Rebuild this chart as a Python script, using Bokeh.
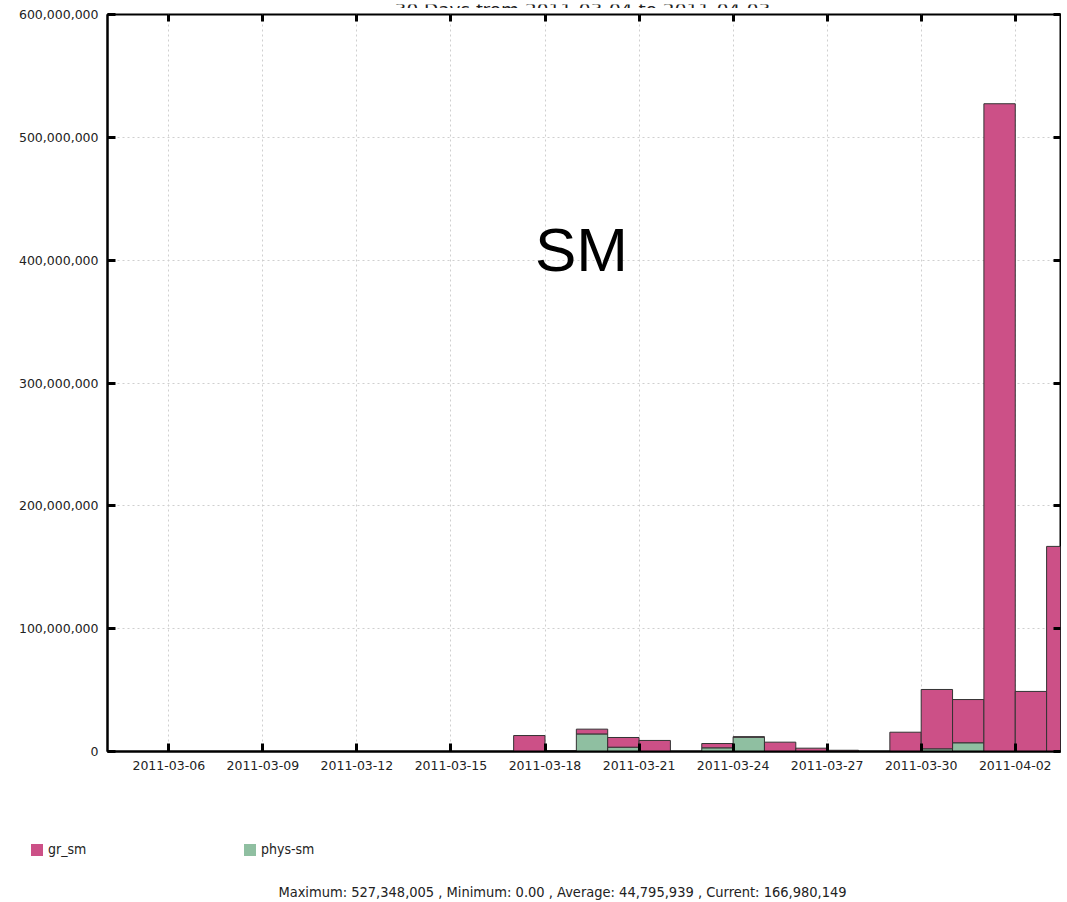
import pandas as pd
from bokeh.plotting import figure
from bokeh.layouts import column
from bokeh.models import (Range1d, FixedTicker, DatetimeTickFormatter, NumeralTickFormatter,
                          LinearAxis, DatetimeAxis, Label, Legend, LegendItem, ColumnDataSource,
                          CustomJSTickFormatter)
from bokeh.embed import file_html
from bokeh.resources import INLINE

# ---------------- data ----------------
dates = ["2011-03-04", "2011-03-05", "2011-03-06", "2011-03-07", "2011-03-08", "2011-03-09",
         "2011-03-10", "2011-03-11", "2011-03-12", "2011-03-13", "2011-03-14", "2011-03-15",
         "2011-03-16", "2011-03-17", "2011-03-18", "2011-03-19", "2011-03-20", "2011-03-21",
         "2011-03-22", "2011-03-23", "2011-03-24", "2011-03-25", "2011-03-26", "2011-03-27",
         "2011-03-28", "2011-03-29", "2011-03-30", "2011-03-31", "2011-04-01", "2011-04-02",
         "2011-04-03"]
gr_sm = [0, 0, 0, 0, 0, 0,
         0, 0, 0, 0, 0, 0,
         0, 13.0e6, 0.8e6, 3.9e6, 7.9e6, 9.0e6,
         0, 3.5e6, 0.3e6, 7.6e6, 2.7e6, 1.0e6,
         0, 15.7e6, 48.3e6, 35.2e6, 527348005, 48.9e6,
         166980149]
phys_sm = [0, 0, 0, 0, 0, 0,
           0, 0, 0, 0, 0, 0,
           0, 0, 0, 14.3e6, 3.5e6, 0,
           0, 3.0e6, 11.7e6, 0, 0, 0,
           0, 0, 2.2e6, 7.1e6, 0, 0,
           0]
series_names = ["gr_sm", "phys-sm"]
series_colors = ["#CC5087", "#8FBFA1"]
x_tick_labels = ["2011-03-06", "2011-03-09", "2011-03-12", "2011-03-15", "2011-03-18",
                 "2011-03-21", "2011-03-24", "2011-03-27", "2011-03-30", "2011-04-02"]
y_ticks = [0, 100e6, 200e6, 300e6, 400e6, 500e6, 600e6]
title_text = "30 Days from 2011-03-04 to 2011-04-03"
big_label = "SM"
footer_text = "Maximum: 527,348,005 , Minimum: 0.00 , Average: 44,795,939 , Current: 166,980,149"

# ---------------- layout constants ----------------
DAY_MS = 86400000
px_per_day = 31.35
frame_left = 107
frame_w = 953
first_tick = pd.Timestamp(x_tick_labels[0])
x_start = first_tick - pd.Timedelta(days=(168.3 - frame_left) / px_per_day)
x_end = x_start + pd.Timedelta(days=frame_w / px_per_day)

# ---------------- title strip (cut off at the top, like the reference) ----------------
p0 = figure(width=1061, height=8, x_range=Range1d(0, 1), y_range=Range1d(0, 1),
            output_backend="svg", toolbar_location=None,
            x_axis_location=None, y_axis_location=None,
            min_border=0, min_border_left=0, min_border_right=0,
            min_border_top=0, min_border_bottom=0)
p0.frame_align = False
p0.outline_line_color = None
p0.xgrid.visible = False
p0.ygrid.visible = False
p0.add_layout(Label(x=582, y=3, x_units="screen", y_units="screen", text=title_text,
                    text_align="center", text_baseline="alphabetic",
                    text_font="DejaVu Sans", text_font_size="18.5px", text_color="#222222"))

# ---------------- main chart ----------------
src = ColumnDataSource(dict(
    x=pd.to_datetime(dates) + pd.Timedelta(hours=12),
    gr_sm=gr_sm,
    phys_sm=phys_sm,
))

p = figure(width=1061, height=772, x_axis_type="datetime",
           x_range=Range1d(x_start, x_end), y_range=Range1d(0, 600e6),
           output_backend="svg", toolbar_location=None,
           min_border_left=frame_left, min_border_right=1, min_border_top=6, min_border_bottom=29)
p.background_fill_color = "white"
p.border_fill_color = "white"
p.outline_line_color = "black"
p.outline_line_width = 2

rs = p.vbar_stack(["phys_sm", "gr_sm"], x="x", width=DAY_MS, source=src,
                  fill_color=[series_colors[1], series_colors[0]],
                  line_color="#333333", line_width=1)

tick_ms = [pd.Timestamp(t).value // 10**6 for t in x_tick_labels]
xticker = FixedTicker(ticks=tick_ms)
yticker = FixedTicker(ticks=y_ticks)

fmt = "%Y-%m-%d"
xa = p.xaxis[0]
xa.ticker = xticker
xa.formatter = DatetimeTickFormatter(days=fmt, months=fmt, hours=fmt, years=fmt, hourmin=fmt)
ya = p.yaxis[0]
ya.ticker = yticker
ya.formatter = NumeralTickFormatter(format="0,0")

for ax in (xa, ya):
    ax.major_tick_in = 8
    ax.major_tick_out = 0
    ax.major_tick_line_width = 3
    ax.major_tick_line_color = "black"
    ax.minor_tick_line_color = None
    ax.axis_line_color = "black"
    ax.axis_line_width = 2
    ax.major_label_text_font = "DejaVu Sans"
    ax.major_label_text_font_size = "12.5px"
    ax.major_label_text_color = "#222222"
    ax.major_label_standoff = 9

# tick marks on the top and right sides (no labels)
blank = CustomJSTickFormatter(code="return ''")
top_ax = DatetimeAxis(ticker=xticker, formatter=blank)
right_ax = LinearAxis(ticker=yticker, formatter=blank)
for ax in (top_ax, right_ax):
    ax.major_tick_in = 7
    ax.major_tick_out = 0
    ax.major_tick_line_width = 3
    ax.major_tick_line_color = "black"
    ax.minor_tick_line_color = None
    ax.axis_line_color = None
    ax.major_label_text_font_size = "1px"
    ax.major_label_standoff = 0
p.add_layout(top_ax, "above")
p.add_layout(right_ax, "right")

for g in (p.xgrid[0], p.ygrid[0]):
    g.grid_line_color = "#cfcfcf"
    g.grid_line_dash = "2 3"
    g.grid_line_width = 1
p.xgrid[0].ticker = xticker
p.ygrid[0].ticker = yticker

# big SM label
p.add_layout(Label(x=581 - frame_left, y=502, x_units="screen", y_units="screen", text=big_label,
                   text_align="center", text_baseline="middle",
                   text_font="Liberation Sans", text_font_size="62px", text_color="black"))

# ---------------- legend + footer strip ----------------
p2 = figure(width=1061, height=120, x_range=Range1d(0, 1), y_range=Range1d(0, 1),
            output_backend="svg", toolbar_location=None,
            x_axis_location=None, y_axis_location=None,
            min_border=0, min_border_left=0, min_border_right=0,
            min_border_top=0, min_border_bottom=0)
p2.frame_align = False
p2.outline_line_color = None
p2.xgrid.visible = False
p2.ygrid.visible = False
proxy = ColumnDataSource(dict(x=[5], top=[0.5]))   # outside the strip's range: legend swatch only
lg_gr = p2.vbar(x="x", top="top", width=0.1, source=proxy,
                fill_color=series_colors[0], line_color=None)
lg_phys = p2.vbar(x="x", top="top", width=0.1, source=proxy,
                  fill_color=series_colors[1], line_color=None)

legend = Legend(items=[LegendItem(label=series_names[0], renderers=[lg_gr]),
                       LegendItem(label=series_names[1], renderers=[lg_phys])],
                location=(29, 43), orientation="horizontal",
                glyph_width=15, glyph_height=15, label_height=15, label_width=190,
                label_standoff=4, spacing=4, padding=0, margin=0,
                border_line_color=None, background_fill_alpha=0,
                label_text_font="DejaVu Sans Condensed", label_text_font_size="14px",
                label_text_color="#222222")
p2.add_layout(legend, "center")

p2.add_layout(Label(x=562, y=9, x_units="screen", y_units="screen", text=footer_text,
                    text_align="center", text_baseline="middle",
                    text_font="DejaVu Sans Condensed", text_font_size="14.5px", text_color="#222222"))

layout = column(p0, p, p2, spacing=0)
open("out.html", "w").write(file_html(layout, INLINE))
